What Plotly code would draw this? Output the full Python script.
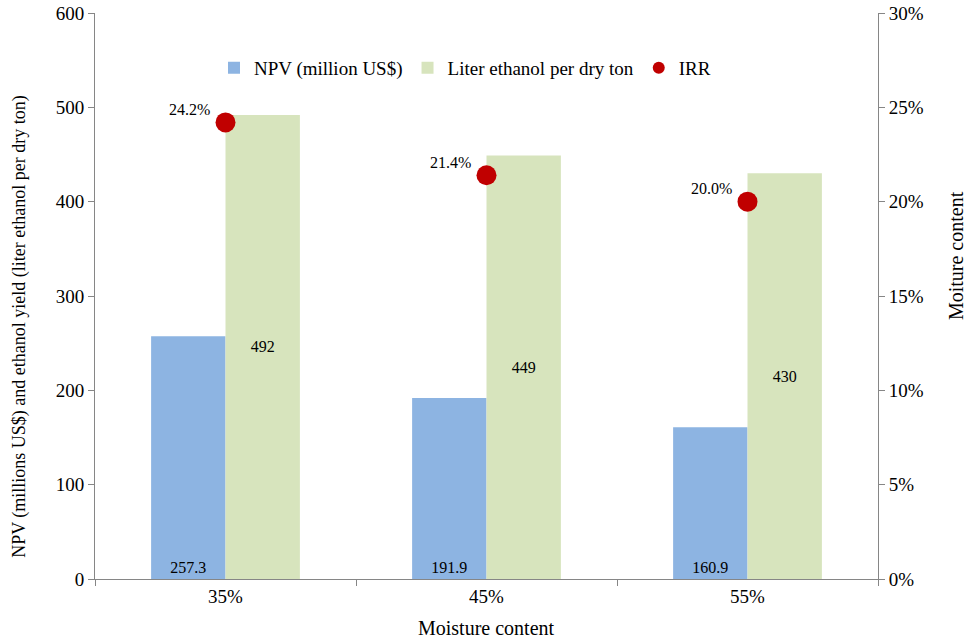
import plotly.graph_objects as go

# Moisture content scenarios
moisture = ["35%", "45%", "55%"]
npv_musd = [257.3, 191.9, 160.9]          # NPV, million US$
ethanol_l_per_ton = [492, 449, 430]       # liter ethanol per dry ton
irr = [0.242, 0.214, 0.200]               # internal rate of return

FONT = "'Liberation Serif', 'Times New Roman', serif"
AXIS_GREY = "#868686"

fig = go.Figure()

fig.add_trace(go.Bar(
    name="NPV (million US$)",
    x=moisture, y=npv_musd,
    marker=dict(color="#8DB4E2", line=dict(width=0)),
    text=[f"{v:.1f}" for v in npv_musd],
    textposition="inside", insidetextanchor="start",
    insidetextfont=dict(family=FONT, size=16, color="#000000"),
    textangle=0,
))

fig.add_trace(go.Bar(
    name="Liter ethanol per dry ton",
    x=moisture, y=ethanol_l_per_ton,
    marker=dict(color="#D7E4BD", line=dict(width=0)),
    text=[f"{v:d}" for v in ethanol_l_per_ton],
    textposition="inside", insidetextanchor="middle",
    insidetextfont=dict(family=FONT, size=16, color="#000000"),
    textangle=0,
))

fig.add_trace(go.Scatter(
    name="IRR",
    x=moisture, y=irr, yaxis="y2",
    mode="markers",
    marker=dict(color="#C00000", size=20, line=dict(width=0)),
))

# IRR value labels, up and to the left of each marker
for m, r in zip(moisture, irr):
    fig.add_annotation(
        x=m, y=r, xref="x", yref="y2",
        text=f"{r * 100:.1f}%", showarrow=False,
        xanchor="right", yanchor="middle",
        xshift=-14, yshift=13,
        font=dict(family=FONT, size=16, color="#000000"),
    )

# Axis titles
fig.add_annotation(
    x=-0.096, y=0.447, xref="paper", yref="paper",
    text="NPV (millions US$) and ethanol yield (liter ethanol per dry ton)",
    textangle=-90, showarrow=False, xanchor="center", yanchor="middle",
    font=dict(family=FONT, size=18, color="#000000"),
)
fig.add_annotation(
    x=1.1, y=0.571, xref="paper", yref="paper",
    text="Moiture content",
    textangle=-90, showarrow=False, xanchor="center", yanchor="middle",
    font=dict(family=FONT, size=20, color="#000000"),
)
fig.add_annotation(
    x=0.5, y=-0.087, xref="paper", yref="paper",
    text="Moisture content",
    showarrow=False, xanchor="center", yanchor="middle",
    font=dict(family=FONT, size=20, color="#000000"),
)

fig.update_layout(
    width=966, height=640,
    margin=dict(l=95, r=88, t=13, b=61, autoexpand=False),
    paper_bgcolor="white", plot_bgcolor="white",
    font=dict(family=FONT, size=18, color="#000000"),
    barmode="group", bargap=0.43, bargroupgap=0,
    showlegend=True,
    legend=dict(
        orientation="h", x=0.152, y=0.903, xanchor="left", yanchor="middle",
        font=dict(family=FONT, size=19, color="#000000"),
        bgcolor="rgba(0,0,0,0)", itemsizing="constant",
    ),
    xaxis=dict(
        type="category", showgrid=False, zeroline=False, automargin=False,
        showline=True, linecolor=AXIS_GREY, linewidth=1,
        ticks="outside", tickson="boundaries", ticklen=6, tickcolor=AXIS_GREY,
        tickfont=dict(family=FONT, size=19),
    ),
    yaxis=dict(
        range=[0, 600], dtick=100, showgrid=False, zeroline=False, automargin=False,
        showline=True, linecolor=AXIS_GREY, linewidth=1,
        ticks="outside", ticklen=6, tickcolor=AXIS_GREY,
        tickfont=dict(family=FONT, size=19),
    ),
    yaxis2=dict(
        range=[0, 0.30], dtick=0.05, tickformat=".0%",
        overlaying="y", side="right", anchor="x", automargin=False,
        showgrid=False, zeroline=False,
        showline=True, linecolor=AXIS_GREY, linewidth=1,
        ticks="outside", ticklen=6, tickcolor=AXIS_GREY,
        tickfont=dict(family=FONT, size=19),
    ),
)

fig.write_html("out.html")
